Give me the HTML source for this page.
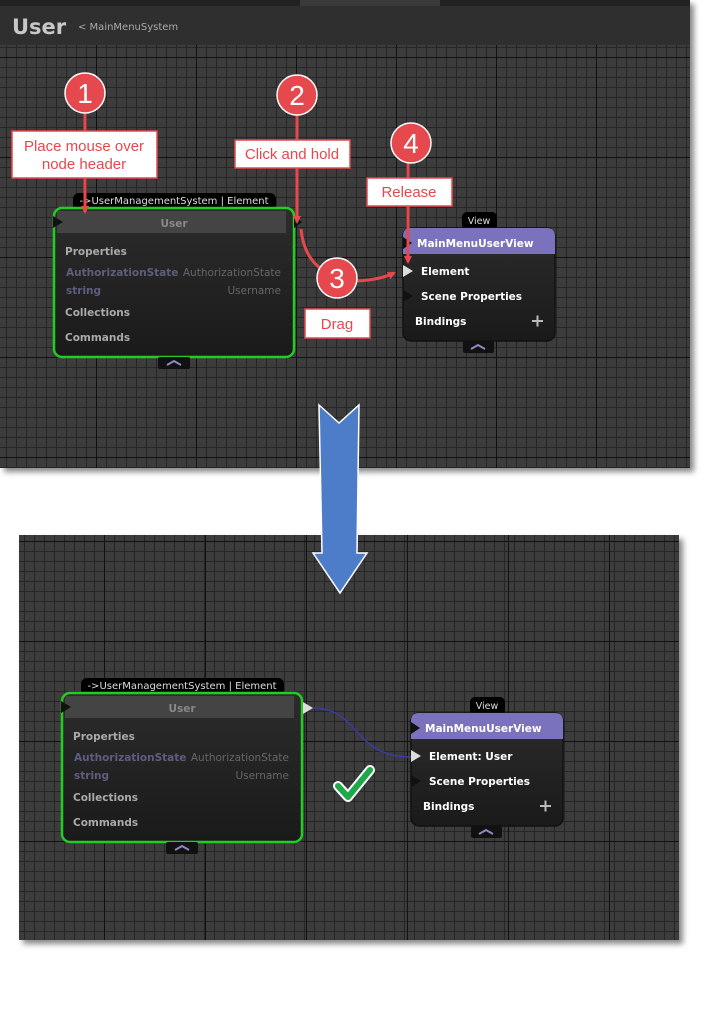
<!DOCTYPE html>
<html><head><meta charset="utf-8"><style>
html,body{margin:0;padding:0;background:#fff;}
svg{display:block;}
.cal{font-family:"Liberation Sans",sans-serif;font-size:15px;fill:#e5484d;}
.num{font-family:"Liberation Sans",sans-serif;font-size:28px;fill:#fff;text-anchor:middle;}
.nt{font-family:"DejaVu Sans",sans-serif;font-weight:bold;font-size:10.5px;}
</style></head><body>
<svg width="704" height="1026" viewBox="0 0 704 1026" xmlns="http://www.w3.org/2000/svg">
<defs>
<pattern id="mt" patternUnits="userSpaceOnUse" x="6" y="7" width="10" height="10"><rect width="10" height="10" fill="#3c3c3c"/><path d="M0 0.5H10M0.5 0V10" stroke="#262626" stroke-width="1"/></pattern>
<pattern id="Mt" patternUnits="userSpaceOnUse" x="96" y="57" width="100" height="100"><path d="M0 0.5H100M0.5 0V100" stroke="#111" stroke-width="1"/></pattern>
<pattern id="mb" patternUnits="userSpaceOnUse" x="4" y="1" width="10" height="10"><rect width="10" height="10" fill="#3c3c3c"/><path d="M0 0.5H10M0.5 0V10" stroke="#262626" stroke-width="1"/></pattern>
<pattern id="Mb" patternUnits="userSpaceOnUse" x="104" y="541" width="101" height="100"><path d="M0 0.5H101M0.5 0V100" stroke="#111" stroke-width="1"/></pattern>
<filter id="sh" x="-5%" y="-5%" width="110%" height="110%"><feGaussianBlur stdDeviation="3"/></filter>
<linearGradient id="body" x1="0" y1="0" x2="0" y2="1"><stop offset="0" stop-color="#2c2c2c"/><stop offset="1" stop-color="#1a1a1a"/></linearGradient>
<marker id="ar" markerWidth="8" markerHeight="8" refX="6" refY="4" orient="auto" markerUnits="userSpaceOnUse"><path d="M0 0L8 4L0 8Z" fill="#e5484d"/></marker>
</defs>

<rect x="4" y="4" width="690" height="468" fill="#888" filter="url(#sh)"/>
<rect x="0" y="0" width="690" height="468" fill="url(#mt)"/>
<rect x="0" y="0" width="690" height="468" fill="url(#Mt)"/>
<rect x="0" y="0" width="690" height="45" fill="#2f2f2f"/>
<rect x="0" y="0" width="690" height="6" fill="#222"/>
<rect x="300" y="0" width="140" height="6" fill="#3a3a3a"/>
<text x="12" y="34" font-family="DejaVu Sans,sans-serif" font-weight="bold" font-size="21" fill="#c8c8c8">User</text>
<text x="78" y="30" font-family="DejaVu Sans,sans-serif" font-size="10" fill="#aaa">&lt; MainMenuSystem</text>

<rect x="23" y="539" width="660" height="405" fill="#888" filter="url(#sh)"/>
<rect x="19" y="535" width="660" height="405" fill="url(#mb)"/>
<rect x="19" y="535" width="660" height="405" fill="url(#Mb)"/>

<g id="n1">
<rect x="73" y="193" width="203" height="18" rx="6" fill="#000"/>
<text x="174" y="204" text-anchor="middle" font-family="DejaVu Sans,sans-serif" font-size="10" fill="#ddd">->UserManagementSystem | Element</text>
<rect x="54" y="208" width="240" height="149" rx="8" fill="url(#body)" stroke="#22cc22" stroke-width="2.5"/>
<rect x="57" y="211" width="229" height="22" fill="#444"/>
<text x="174" y="227" text-anchor="middle" class="nt" font-size="12" fill="#888">User</text>
<path d="M53 216L63 222L53 228Z" fill="#111"/>
<text x="65" y="255" class="nt" fill="#aaa">Properties</text>
<text x="66" y="276" class="nt" font-size="8.5" fill="#5d5d80">AuthorizationState</text>
<text x="281" y="276" text-anchor="end" font-family="DejaVu Sans,sans-serif" font-size="10.5" fill="#666">AuthorizationState</text>
<text x="66" y="294" class="nt" font-size="8.5" fill="#5d5d80">string</text>
<text x="281" y="294" text-anchor="end" font-family="DejaVu Sans,sans-serif" font-size="10.5" fill="#666">Username</text>
<text x="65" y="316" class="nt" fill="#aaa">Collections</text>
<text x="65" y="341" class="nt" fill="#aaa">Commands</text>
<rect x="158" y="357" width="32" height="12" rx="2" fill="#111"/>
<path d="M167 365L174 361L181 365" stroke="#8a8ac0" stroke-width="2" fill="none"/>
</g>
<g id="n2">
<rect x="462" y="212" width="35" height="18" rx="5" fill="#000"/>
<text x="479" y="224" text-anchor="middle" font-family="DejaVu Sans,sans-serif" font-size="9.5" fill="#ddd">View</text>
<rect x="403" y="228" width="152" height="113" rx="8" fill="url(#body)" stroke="#111" stroke-width="1.5"/>
<path d="M403 254V236Q403 228 411 228H547Q555 228 555 236V254Z" fill="#7a72bd"/>
<path d="M403 237L412 243L403 249Z" fill="#111"/>
<text x="417" y="247" class="nt" font-size="11.5" fill="#fff">MainMenuUserView</text>
<text x="421" y="275" class="nt" fill="#fff">Element</text>
<text x="421" y="300" class="nt" fill="#fff">Scene Properties</text>
<text x="415" y="325" class="nt" fill="#fff">Bindings</text>
<path d="M532 321H543M537.5 315.5V326.5" stroke="#bbb" stroke-width="2"/>
<rect x="463" y="341" width="31" height="12" rx="2" fill="#111"/>
<path d="M471 349L478 345L485 349" stroke="#8a8ac0" stroke-width="2" fill="none"/>
</g>
<path d="M403 265L413 271L403 277Z" fill="#ddd"/>
<path d="M403 290L413 296L403 302Z" fill="#111"/>
<path d="M294 216L302 222L294 228Z" fill="#111"/>

<g stroke="#e5484d" stroke-width="3" fill="none">
<path d="M85 110V212" marker-end="url(#ar)"/>
<path d="M297 112V222" marker-end="url(#ar)"/>
<path d="M408 160V262" marker-end="url(#ar)"/>
<path d="M301 229Q304 262 330 274"/>
<path d="M355 281Q380 280 394 273" marker-end="url(#ar)"/>
</g>
<g stroke="#fff" stroke-width="1.5">
<circle cx="85" cy="93" r="20" fill="#e5484d"/>
<circle cx="297" cy="95" r="20" fill="#e5484d"/>
<circle cx="411" cy="143" r="20" fill="#e5484d"/>
<circle cx="337" cy="278" r="20" fill="#e5484d"/>
</g>
<text x="85" y="103" class="num">1</text>
<text x="297" y="105" class="num">2</text>
<text x="411" y="153" class="num">4</text>
<text x="337" y="288" class="num">3</text>
<g fill="#fff" stroke="#e5484d" stroke-width="1.5">
<rect x="12" y="131" width="145" height="47"/>
<rect x="235" y="140" width="115" height="28"/>
<rect x="367" y="178" width="85" height="28"/>
<rect x="305" y="309" width="65" height="29"/>
</g>
<text x="84" y="151" text-anchor="middle" class="cal">Place mouse over</text>
<text x="84" y="169" text-anchor="middle" class="cal">node header</text>
<text x="292" y="159" text-anchor="middle" class="cal">Click and hold</text>
<text x="409" y="197" text-anchor="middle" class="cal">Release</text>
<text x="337" y="329" text-anchor="middle" class="cal">Drag</text>

<use href="#n1" x="8" y="485"/>
<use href="#n2" x="8" y="485"/>
<rect x="416" y="748" width="80" height="14" fill="#262626"/>
<text x="429" y="760" class="nt" fill="#fff">Element: User</text>
<path d="M411 750L421 756L411 762Z" fill="#ddd"/>
<path d="M411 775L421 781L411 787Z" fill="#111"/>
<path d="M303 702L313 708L303 714Z" fill="#ddd"/>
<path d="M313 708C360 708 352 757 411 757" stroke="#3a3aa8" stroke-width="1.5" fill="none"/>
<path d="M338 786L348 797L370 770" stroke="#fff" stroke-width="10" fill="none" stroke-linecap="round" stroke-linejoin="round"/>
<path d="M338 786L348 797L370 770" stroke="#1fa84a" stroke-width="6" fill="none" stroke-linecap="round" stroke-linejoin="round"/>

<path d="M319 405L339 423L359 405L357 553H367L340 593L313 553H322Z" fill="#4d7cc9" stroke="#fff" stroke-width="1.5"/>
</svg>
</body></html>
